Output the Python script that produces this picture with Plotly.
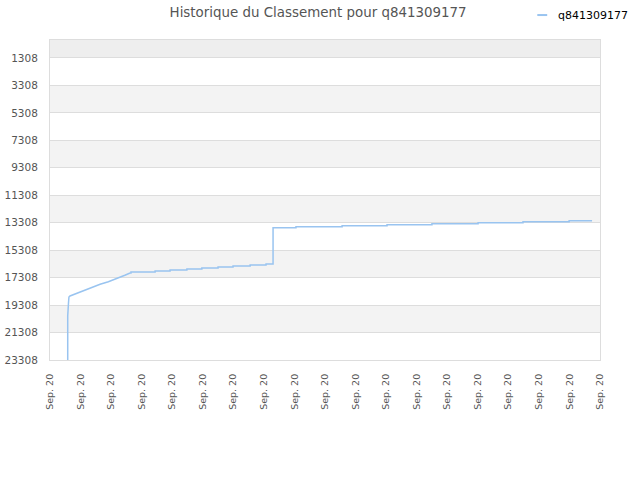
import plotly.graph_objects as go

# position sur l'axe des x (1 unité = un intervalle entre deux graduations)
rise_x = [0.58, 0.58, 0.605, 0.62, 0.655, 0.82, 1.09, 1.365, 1.64, 1.91, 2.18, 2.45, 2.62]
rise_rank = [23308, 20103, 19156, 18719, 18646, 18500, 18260, 18041, 17794, 17604, 17386, 17138, 16970]

step_x = [2.62, 2.65, 3.44, 3.93, 4.48, 4.97, 5.50, 5.99, 6.55, 7.07, 7.30,
          8.05, 9.56, 11.03, 12.50, 14.01, 15.48, 16.99, 17.74]
step_rank = [16970, 16897, 16824, 16751, 16678, 16605, 16533, 16460, 16387, 16314, 13670,
             13597, 13525, 13452, 13379, 13306, 13233, 13160, 13160]

x_ticks = list(range(19))
x_labels = ["Sep. 20"] * 19
y_ticks = [1308, 3308, 5308, 7308, 9308, 11308, 13308, 15308, 17308, 19308, 21308, 23308]

COULEUR = "#99c4f0"
NOM = "q841309177"

fig = go.Figure()
fig.add_trace(go.Scatter(x=rise_x, y=rise_rank, mode="lines", showlegend=False,
                         line=dict(color=COULEUR, width=1.5)))
fig.add_trace(go.Scatter(x=step_x, y=step_rank, mode="lines", showlegend=False,
                         line=dict(color=COULEUR, width=1.5, shape="hv")))

# bandes alternées derrière le graphique
shapes = [dict(type="rect", xref="paper", yref="y", x0=0, x1=1, y0=0, y1=y_ticks[0],
               fillcolor="#eeeeee", line_width=0, layer="below")]
for i in range(1, len(y_ticks) - 1, 2):
    shapes.append(dict(type="rect", xref="paper", yref="y", x0=0, x1=1,
                       y0=y_ticks[i], y1=y_ticks[i + 1],
                       fillcolor="#f3f3f3", line_width=0, layer="below"))
# légende faite à la main (la vraie légende décale la zone de tracé)
shapes.append(dict(type="line", xref="paper", yref="paper", x0=0.886, x1=0.904,
                   y0=1.078, y1=1.078, line=dict(color=COULEUR, width=2)))

fig.update_layout(
    width=640, height=480,
    margin=dict(l=50, r=40, t=40, b=120),
    paper_bgcolor="white", plot_bgcolor="white",
    font=dict(family="DejaVu Sans", color="#555555"),
    title=dict(text="Historique du Classement pour q841309177", x=0.497, xanchor="center",
               y=0.975, yanchor="middle", font=dict(size=13.4, color="#555555")),
    showlegend=False,
    shapes=shapes,
    annotations=[dict(text=NOM, xref="paper", yref="paper", x=0.92, y=1.078,
                      xanchor="left", yanchor="middle", showarrow=False,
                      font=dict(size=11, color="black"))],
)
fig.update_xaxes(range=[0, 18], tickvals=x_ticks, ticktext=x_labels, tickangle=-90,
                 showgrid=False, zeroline=False, showline=True, mirror=True,
                 linecolor="#dddddd", ticks="", automargin=False, ticklabelstandoff=9,
                 tickfont=dict(size=9.5, color="#555555"))
fig.update_yaxes(range=[23308, 0], tickvals=y_ticks, ticktext=[str(v) for v in y_ticks],
                 showgrid=True, gridcolor="#dddddd", zeroline=False, showline=True,
                 mirror=True, linecolor="#dddddd", ticks="", automargin=False,
                 ticklabelstandoff=9, tickfont=dict(size=10.5, color="#555555"))

# pas de marge de page autour du graphique, pas de barre d'outils
fig.write_html("out.html", config={"displayModeBar": False},
               post_script="document.body.style.margin='0';")
